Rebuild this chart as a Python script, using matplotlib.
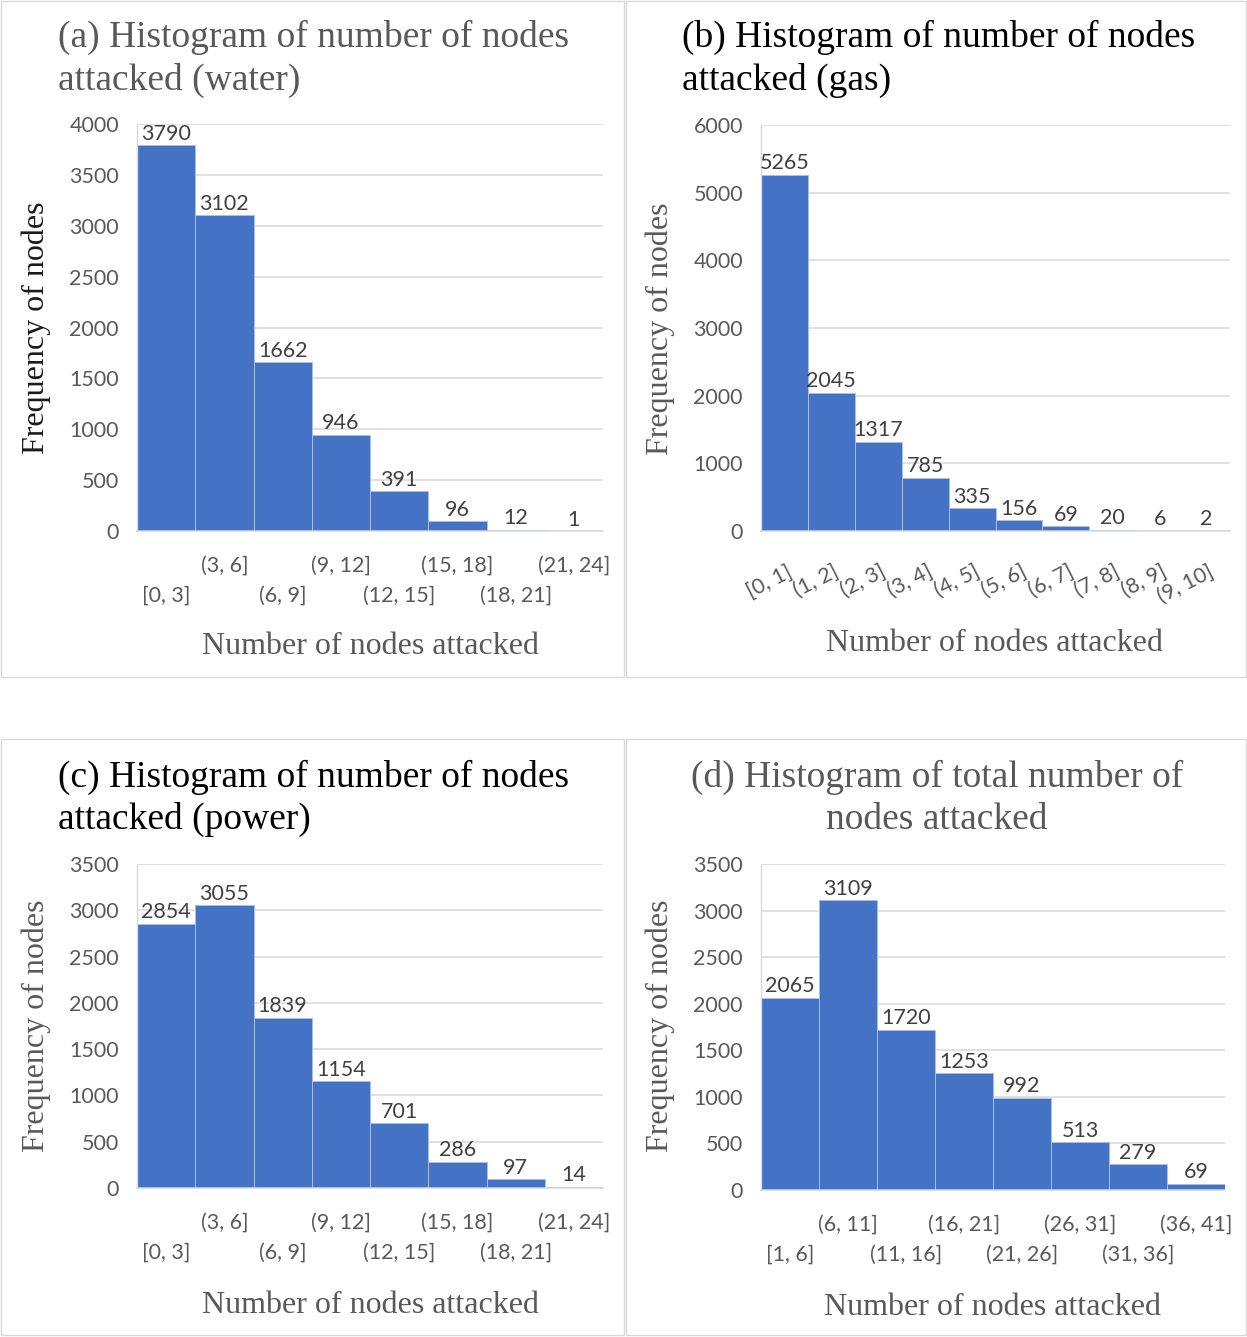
import matplotlib
matplotlib.use("Agg")
import matplotlib.pyplot as plt
from matplotlib.patches import Rectangle
import numpy as np

# ---- data -------------------------------------------------------------
water_bins = ["[0, 3]", "(3, 6]", "(6, 9]", "(9, 12]", "(12, 15]", "(15, 18]", "(18, 21]", "(21, 24]"]
water_counts = [3790, 3102, 1662, 946, 391, 96, 12, 1]

gas_bins = ["[0, 1]", "(1, 2]", "(2, 3]", "(3, 4]", "(4, 5]", "(5, 6]", "(6, 7]", "(7, 8]", "(8, 9]", "(9, 10]"]
gas_counts = [5265, 2045, 1317, 785, 335, 156, 69, 20, 6, 2]

power_bins = ["[0, 3]", "(3, 6]", "(6, 9]", "(9, 12]", "(12, 15]", "(15, 18]", "(18, 21]", "(21, 24]"]
power_counts = [2854, 3055, 1839, 1154, 701, 286, 97, 14]

total_bins = ["[1, 6]", "(6, 11]", "(11, 16]", "(16, 21]", "(21, 26]", "(26, 31]", "(31, 36]", "(36, 41]"]
total_counts = [2065, 3109, 1720, 1253, 992, 513, 279, 69]

titles = [
    ["(a) Histogram of number of nodes", "attacked (water)"],
    ["(b) Histogram of number of nodes", "attacked (gas)"],
    ["(c) Histogram of number of nodes", "attacked (power)"],
    ["(d) Histogram of total number of", "nodes attacked"],
]
x_label = "Number of nodes attacked"
y_label = "Frequency of nodes"

# ---- styling ----------------------------------------------------------
W, H = 1247, 1337
BAR = "#4472C4"
GRID = "#D9D9D9"
GRAY = "#595959"
VAL = "#404040"
SERIF = "Liberation Serif"
SANS = "Lato"

fig = plt.figure(figsize=(W / 100, H / 100), dpi=100)
fig.patch.set_facecolor("white")


def fx(px):
    return px / W


def fy(py):
    return 1 - py / H


def add_axes(l, t, r, b):
    return fig.add_axes([fx(l), fy(b), fx(r) - fx(l), fy(t) - fy(b)])


def panel_frame(l, t, r, b):
    fig.add_artist(Rectangle((fx(l), fy(b)), fx(r) - fx(l), fy(t) - fy(b),
                             transform=fig.transFigure, fill=False,
                             edgecolor=GRID, linewidth=1.0))


def histogram(ax, bins, counts, ymax, ystep, rotated=False):
    n = len(counts)
    x = np.arange(n) + 0.5
    ax.bar(x, counts, width=1.0, color=BAR, edgecolor="#A9BFE6", linewidth=0.7, zorder=2)
    ax.set_xlim(0, n)
    ax.set_ylim(0, ymax)
    ax.set_yticks(np.arange(0, ymax + 1, ystep))
    ax.yaxis.grid(True, color=GRID, linewidth=1.1)
    ax.set_axisbelow(True)
    for s in ["top", "right"]:
        ax.spines[s].set_visible(False)
    ax.spines["left"].set_color(GRID)
    ax.spines["left"].set_linewidth(1.0)
    ax.spines["bottom"].set_color(GRID)
    ax.spines["bottom"].set_linewidth(1.1)
    ax.tick_params(axis="y", length=0, pad=13, labelsize=15.5, labelcolor=GRAY)
    for lab in ax.get_yticklabels():
        lab.set_fontfamily(SANS)
    ax.set_xticks([])
    # bar values
    for xi, c in zip(x, counts):
        ax.annotate(str(c), xy=(xi, c), xytext=(0, 1), textcoords="offset points",
                    ha="center", va="bottom", fontsize=15.5, color=VAL, family=SANS)
    # category labels
    for i, (xi, lab) in enumerate(zip(x, bins)):
        if rotated:
            ax.annotate(lab, xy=(xi, 0), xycoords=("data", "axes fraction"),
                        xytext=(1, -22), textcoords="offset points",
                        ha="right", va="top", rotation=27, rotation_mode="anchor",
                        fontsize=15.5, color=GRAY, family=SANS)
        else:
            off = -25 if i % 2 == 1 else -46.5
            ax.annotate(lab, xy=(xi, 0), xycoords=("data", "axes fraction"),
                        xytext=(0, off), textcoords="offset points",
                        ha="center", va="center",
                        fontsize=15.5, color=GRAY, family=SANS)


# panel frames
panel_frame(1, 0.5, 624, 677)
panel_frame(626, 0.5, 1246, 677)
panel_frame(1, 739, 624, 1335)
panel_frame(626, 739, 1246, 1335)

ax_a = add_axes(137, 124, 603, 531)
histogram(ax_a, water_bins, water_counts, 4000, 500)
ax_b = add_axes(761, 125, 1230, 531)
histogram(ax_b, gas_bins, gas_counts, 6000, 1000, rotated=True)
ax_c = add_axes(137, 864, 603, 1188)
histogram(ax_c, power_bins, power_counts, 3500, 500)
ax_d = add_axes(761, 864, 1225, 1190)
histogram(ax_d, total_bins, total_counts, 3500, 500)

# titles
title_specs = [
    (58, [47, 90], "left", GRAY),
    (682, [47, 90], "left", "black"),
    (58, [787, 829], "left", "black"),
    (937, [787, 829], "center", GRAY),
]
for (tx, baselines, ha, col), lines in zip(title_specs, titles):
    for by, line in zip(baselines, lines):
        fig.text(fx(tx), fy(by), line, ha=ha, va="baseline", fontsize=27,
                 family=SERIF, color=col)

# axis labels
xlabel_specs = [(370, 654), (995, 651), (370, 1313), (993, 1315)]
for px, py in xlabel_specs:
    fig.text(fx(px), fy(py), x_label, ha="center", va="baseline", fontsize=23,
             family=SERIF, color=GRAY)

ylabel_specs = [(36, 328, "#1A1A1A"), (660, 329, GRAY), (36, 1026, GRAY), (660, 1026, GRAY)]
for px, py, col in ylabel_specs:
    fig.text(fx(px), fy(py), y_label, ha="center", va="center", rotation=90,
             fontsize=23, family=SERIF, color=col)

fig.savefig("out.png", dpi=100, facecolor="white")
